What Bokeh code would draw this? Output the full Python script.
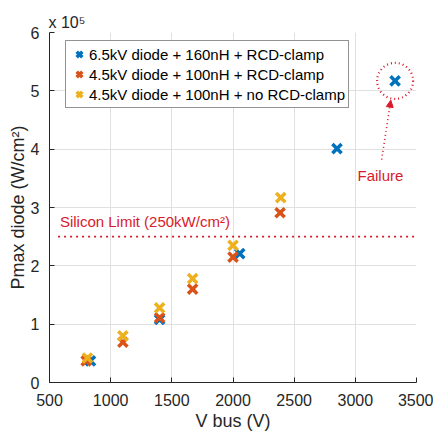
from bokeh.plotting import figure
from bokeh.models import Range1d, Legend, LegendItem, Label, Arrow, NormalHead, FixedTicker, Title
from bokeh.embed import file_html
from bokeh.resources import INLINE

# Data (Pmax in units of 1e5 W/cm^2)
vbus_65_rcd = [835, 1400, 2055, 2850, 3325]
pmax_65_rcd = [0.37, 1.08, 2.21, 4.01, 5.17]

vbus_45_rcd = [800, 1100, 1400, 1670, 2000, 2385]
pmax_45_rcd = [0.37, 0.69, 1.11, 1.60, 2.15, 2.91]

vbus_45_norcd = [810, 1100, 1400, 1670, 2000, 2390]
pmax_45_norcd = [0.42, 0.80, 1.28, 1.78, 2.35, 3.17]

silicon_limit = 2.5
x_ticks = [500, 1000, 1500, 2000, 2500, 3000, 3500]
y_ticks = [0, 1, 2, 3, 4, 5, 6]

labels = ["6.5kV diode + 160nH + RCD-clamp",
          "4.5kV diode + 100nH + RCD-clamp",
          "4.5kV diode + 100nH + no RCD-clamp"]
colors = ["#0072BD", "#D95319", "#EDB120"]
RED = "#d91a2a"
FONT = "Liberation Sans"
DARK = "#262626"

p = figure(width=433, height=436, output_backend="svg", toolbar_location=None,
           x_range=Range1d(500, 3500), y_range=Range1d(0, 6),
           min_border_left=49, min_border_right=17, min_border_top=32, min_border_bottom=54)
p.outline_line_color = None
p.background_fill_color = "white"

p.title = Title(text="x 10⁵", align="left", offset=-1, standoff=3,
                text_font=FONT, text_font_size="16px", text_font_style="normal",
                text_color=DARK)

for ax in (p.xaxis[0], p.yaxis[0]):
    ax.axis_line_color = DARK
    ax.major_tick_line_color = DARK
    ax.major_tick_in = 5
    ax.major_tick_out = 0
    ax.minor_tick_line_color = None
    ax.major_label_text_font = FONT
    ax.major_label_text_font_size = "16px"
    ax.major_label_text_color = DARK
    ax.axis_label_text_font = FONT
    ax.axis_label_text_font_size = "18px"
    ax.axis_label_text_font_style = "normal"
    ax.axis_label_text_color = DARK

p.xaxis[0].ticker = FixedTicker(ticks=x_ticks)
p.yaxis[0].ticker = FixedTicker(ticks=y_ticks)
p.xaxis[0].axis_label = "V bus (V)"
p.yaxis[0].axis_label = "Pmax diode (W/cm²)"
p.xaxis[0].major_label_standoff = 11
p.yaxis[0].major_label_standoff = 10
p.xaxis[0].axis_label_standoff = 2
p.yaxis[0].axis_label_standoff = 0

for g in (p.xgrid[0], p.ygrid[0]):
    g.grid_line_color = "#e0e0e0"
    g.grid_line_width = 1

# Silicon limit line
p.segment(x0=[570], y0=[silicon_limit], x1=[3500], y1=[silicon_limit],
          line_color=RED, line_width=1.6, line_dash="2 4")
p.add_layout(Label(x=585, y=silicon_limit + 0.12, text="Silicon Limit (250kW/cm²)",
                   text_font=FONT, text_font_size="15px", text_color=RED,
                   text_baseline="bottom"))

r1 = p.scatter(vbus_65_rcd, pmax_65_rcd, marker="x", size=13, line_width=3.5, line_color=colors[0])
r2 = p.scatter(vbus_45_rcd, pmax_45_rcd, marker="x", size=13, line_width=3.5, line_color=colors[1])
r3 = p.scatter(vbus_45_norcd, pmax_45_norcd, marker="x", size=13, line_width=3.5, line_color=colors[2])

# Failure annotation
p.scatter([vbus_65_rcd[-1]], [pmax_65_rcd[-1]], marker="circle", size=36,
          fill_color=None, line_color=RED, line_width=2.2, line_dash="1 3")
p.add_layout(Arrow(x_start=3215, y_start=3.82, x_end=3290, y_end=4.84,
                   line_color=RED, line_width=1.6, line_dash="1 3",
                   end=NormalHead(size=7, fill_color=RED, line_color=RED)))
p.add_layout(Label(x=3205, y=3.55, text="Failure", text_font=FONT, text_font_size="15px",
                   text_color=RED, text_align="center", text_baseline="middle"))

legend = Legend(items=[LegendItem(label=labels[0], renderers=[r1]),
                       LegendItem(label=labels[1], renderers=[r2]),
                       LegendItem(label=labels[2], renderers=[r3])],
                location=(16, 274))
legend.label_text_font = FONT
legend.label_text_font_size = "15px"
legend.label_text_color = "black"
legend.border_line_color = DARK
legend.border_line_width = 1
legend.background_fill_alpha = 1
legend.padding = 3
legend.spacing = 0
legend.margin = 0
legend.glyph_width = 20
legend.glyph_height = 20
legend.label_height = 20
legend.label_standoff = 0
p.add_layout(legend)

open("out.html", "w").write(file_html(p, INLINE))
